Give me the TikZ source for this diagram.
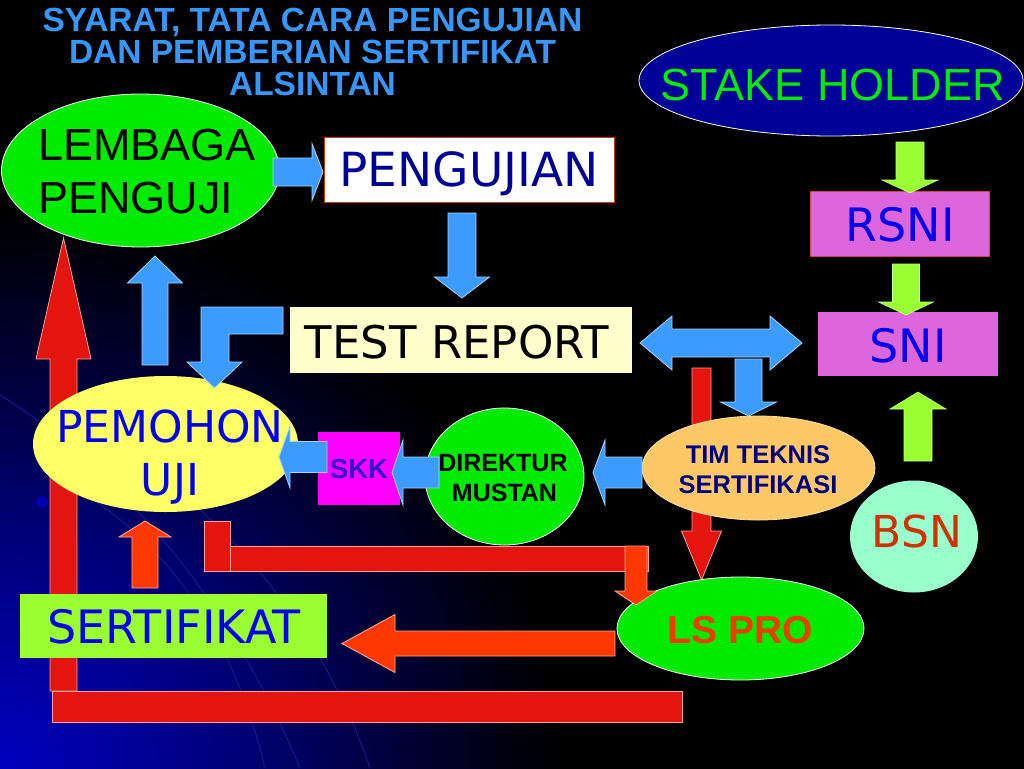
\documentclass[tikz,border=0pt]{standalone}
\usepackage{fontspec}
\setmainfont{Liberation Sans}
\newfontfamily\dvs{DejaVu Sans}
\usetikzlibrary{shapes.geometric}
\definecolor{arrblue}{RGB}{60,155,255}
\definecolor{titleblue}{RGB}{55,150,250}
\definecolor{greenc}{RGB}{0,235,0}
\definecolor{limec}{RGB}{153,255,51}
\definecolor{redc}{RGB}{228,20,15}
\definecolor{orc}{RGB}{255,55,0}
\definecolor{creamc}{RGB}{255,255,204}
\definecolor{orchidc}{RGB}{221,102,221}
\definecolor{magc}{RGB}{255,0,255}
\definecolor{timc}{RGB}{255,200,102}
\definecolor{bsnc}{RGB}{153,255,204}
\definecolor{yelc}{RGB}{255,255,102}
\definecolor{navyc}{RGB}{0,0,153}
\definecolor{txtblue}{RGB}{0,0,238}
\definecolor{darkblue}{RGB}{0,0,150}
\definecolor{timtxt}{RGB}{0,0,128}
\definecolor{skktxt}{RGB}{51,17,204}
\definecolor{bsntxt}{RGB}{204,51,0}
\definecolor{lstxt}{RGB}{240,60,0}
\definecolor{bgblue}{RGB}{0,0,190}
\definecolor{bgmid}{RGB}{0,0,125}
\definecolor{bglow}{RGB}{0,0,45}
\definecolor{curvec}{RGB}{25,25,140}
\pgfdeclareradialshading{bgshade}{\pgfpointorigin}{color(0bp)=(bgblue); color(10bp)=(bgmid); color(19bp)=(bglow); color(25bp)=(black); color(50bp)=(black)}
\newcommand\fsz[1]{\fontsize{#1}{#1}\selectfont}
% vertical block arrow: style, cx, ytail, ybase, half shaft, half head, ytip
\newcommand\vblk[7]{\draw[#1] ({#2-#5},#3) -- ({#2-#5},#4) -- ({#2-#6},#4) -- (#2,#7) -- ({#2+#6},#4) -- ({#2+#5},#4) -- ({#2+#5},#3) -- cycle;}
% horizontal block arrow: style, cy, xtail, xbase, half shaft, half head, xtip
\newcommand\hblk[7]{\draw[#1] (#3,{#2-#5}) -- (#4,{#2-#5}) -- (#4,{#2-#6}) -- (#7,#2) -- (#4,{#2+#6}) -- (#4,{#2+#5}) -- (#3,{#2+#5}) -- cycle;}
\tikzset{
  bluearr/.style={fill=arrblue, draw=white!55!arrblue, line width=0.8pt, line join=miter},
  redarr/.style={fill=redc, draw=white!60!redc, line width=0.8pt},
  orarr/.style={fill=orc, draw=white!60!orc, line width=0.8pt},
  limearr/.style={fill=limec, draw=white!40!limec, line width=0.6pt},
  ell/.style={ellipse, inner sep=0pt, draw=white, line width=0.8pt},
  box/.style={rectangle, inner sep=0pt},
  lbl/.style={anchor=base, inner sep=0pt},
  ttl/.style={lbl, font=\bfseries\fsz{33.5}, text=titleblue},
}
\begin{document}
\begin{tikzpicture}[x=1pt,y=-1pt]
\useasboundingbox (0,0) rectangle (1024,768);
% background
\fill[black] (-6,-6) rectangle (1030,774);
\begin{scope}
  \clip (-6,-6) rectangle (1030,774);
  \shade[shading=bgshade] (0,768) circle (560pt);
  \draw[curvec, line width=1pt] (0,395) .. controls (120,470) and (230,600) .. (300,768);
  \draw[curvec, line width=1pt] (40,470) .. controls (150,520) and (230,620) .. (265,768);
  \draw[curvec, line width=1pt] (150,470) .. controls (250,540) and (330,650) .. (370,768);
  \fill[blue!70!black] (42,502) circle (6pt);
\end{scope}

% title
\node[ttl] (t1) at (312.5,32) {SYARAT, TATA CARA PENGUJIAN};
\node[ttl] (t2) at (312.5,63.5) {DAN PEMBERIAN SERTIFIKAT};
\node[ttl] (t3) at (312.5,95.5) {ALSINTAN};

% big red return arrow and bottom bar
\vblk{redarr}{63.5}{691}{359}{13.5}{27.5}{238}
\draw[redarr] (52,691) rectangle (682,722);
% red L connector from PEMOHON
\draw[redarr] (204,521) rectangle (230,571);
\draw[redarr] (230,546) rectangle (648,571);

% shapes
\node[ell, fill=greenc, minimum width=278pt, minimum height=153pt] (lemb) at (140.5,170.5) {};
\node[box, fill=white, draw=bsntxt, line width=0.8pt, minimum width=290pt, minimum height=65pt] (peng) at (469,169.5) {};
\node[box, fill=creamc, minimum width=342pt, minimum height=66pt] (test) at (461,340) {};
\node[ell, draw=none, fill=yelc, minimum width=265pt, minimum height=136pt] (pemo) at (165.5,444) {};
\node[box, fill=limec, minimum width=307pt, minimum height=64pt] (sert) at (173.5,626) {};
\node[ell, fill=navyc, minimum width=384pt, minimum height=111pt] (stake) at (831,80.5) {};
\node[box, fill=orchidc, draw=bsntxt!70!orchidc, line width=0.6pt, minimum width=179pt, minimum height=65pt] (rsni) at (899.5,223.5) {};
\node[box, fill=orchidc, minimum width=180pt, minimum height=64pt] (sni) at (908,344) {};
\node[ell, draw=none, fill=bsnc, minimum width=128pt, minimum height=112pt] (bsn) at (914,536.5) {};
\node[box, fill=magc, minimum width=82pt, minimum height=73pt] (skk) at (359,468.5) {};
\node[ell, fill=greenc, minimum width=159pt, minimum height=137pt] (dir) at (504.5,476.5) {};

% red arrow down to LS PRO (behind TIM TEKNIS)
\vblk{redarr}{701.5}{368}{531}{9.5}{20}{580}
\node[ell, draw=timc!60!white, fill=timc, minimum width=233pt, minimum height=104pt] (tim) at (758.5,468) {};
\node[ell, fill=greenc, minimum width=247pt, minimum height=103pt] (lspro) at (740.5,628.5) {};
% orange arrows
\vblk{orarr}{636}{546}{591}{11}{21}{605}
\hblk{orarr}{643.5}{615}{395}{12.5}{29}{342}
\vblk{orarr}{145}{588}{537}{13}{26}{521}

% blue arrows
\hblk{bluearr}{172}{273}{312}{14}{28.5}{323}
\vblk{bluearr}{462}{213}{277}{14}{27.5}{298}
\draw[bluearr] (283,307) -- (201,307) -- (201,362) -- (187,362) -- (214.5,388) -- (242,362) -- (229,362) -- (229,334) -- (283,334) -- cycle;
\vblk{bluearr}{155}{365}{283}{13}{27.5}{256}
\draw[bluearr] (640,343) -- (672,316) -- (672,329) -- (770,329) -- (770,316) -- (802,343) -- (770,370) -- (770,357) -- (672,357) -- (672,370) -- cycle;
\vblk{bluearr}{748.5}{359}{402}{13.5}{28}{416}
\hblk{bluearr}{472.5}{642}{605}{15.5}{32.5}{593}
\hblk{bluearr}{472.5}{439}{403}{15.5}{32.5}{392}
\hblk{bluearr}{457}{327}{290}{15.5}{31}{279}

% green arrows
\vblk{limearr}{910}{142}{180}{14}{28}{193}
\vblk{limearr}{906}{264}{302}{13.5}{27.5}{315}
\vblk{limearr}{918}{461}{409}{14}{28}{392}

% texts
\node[lbl, anchor=base west, font=\fsz{45}, text=black] (lembT1) at (38,160) {LEMBAGA};
\node[lbl, anchor=base west, font=\fsz{45}, text=black] (lembT2) at (38,213) {PENGUJI};
\node[lbl, font=\dvs\fsz{47}, text=darkblue] (pengT) at (469,186) {PENGUJIAN};
\node[lbl, font=\dvs\fsz{45}, text=black] (testT) at (457,358) {TEST REPORT};
\node[lbl, font=\dvs\fsz{44}, text=txtblue] (pemoT1) at (170,442) {PEMOHON};
\node[lbl, font=\dvs\fsz{44}, text=txtblue] (pemoT2) at (170,495) {UJI};
\node[lbl, font=\dvs\fsz{46}, text=txtblue] (sertT) at (174,643) {SERTIFIKAT};
\node[lbl, font=\fsz{45}, text=greenc] (stakeT) at (832.5,100) {STAKE HOLDER};
\node[lbl, font=\dvs\fsz{46}, text=txtblue] (rsniT) at (900,241) {RSNI};
\node[lbl, font=\dvs\fsz{46}, text=txtblue] (sniT) at (908,362) {SNI};
\node[lbl, font=\dvs\fsz{44}, text=bsntxt] (bsnT) at (917,547) {BSN};
\node[lbl, font=\bfseries\fsz{25.5}, text=timtxt] (timT1) at (758,463) {TIM TEKNIS};
\node[lbl, font=\bfseries\fsz{25.5}, text=timtxt] (timT2) at (758,493) {SERTIFIKASI};
\node[lbl, font=\bfseries\fsz{25}, text=black] (dirT1) at (503,471) {DIREKTUR};
\node[lbl, font=\bfseries\fsz{25}, text=black] (dirT2) at (504.5,501) {MUSTAN};
\node[lbl, font=\bfseries\fsz{27.5}, text=skktxt] (skkT) at (359,478) {SKK};
\node[lbl, font=\bfseries\fsz{39}, text=lstxt] (lsT) at (740.5,643) {LS PRO};
\end{tikzpicture}
\end{document}
